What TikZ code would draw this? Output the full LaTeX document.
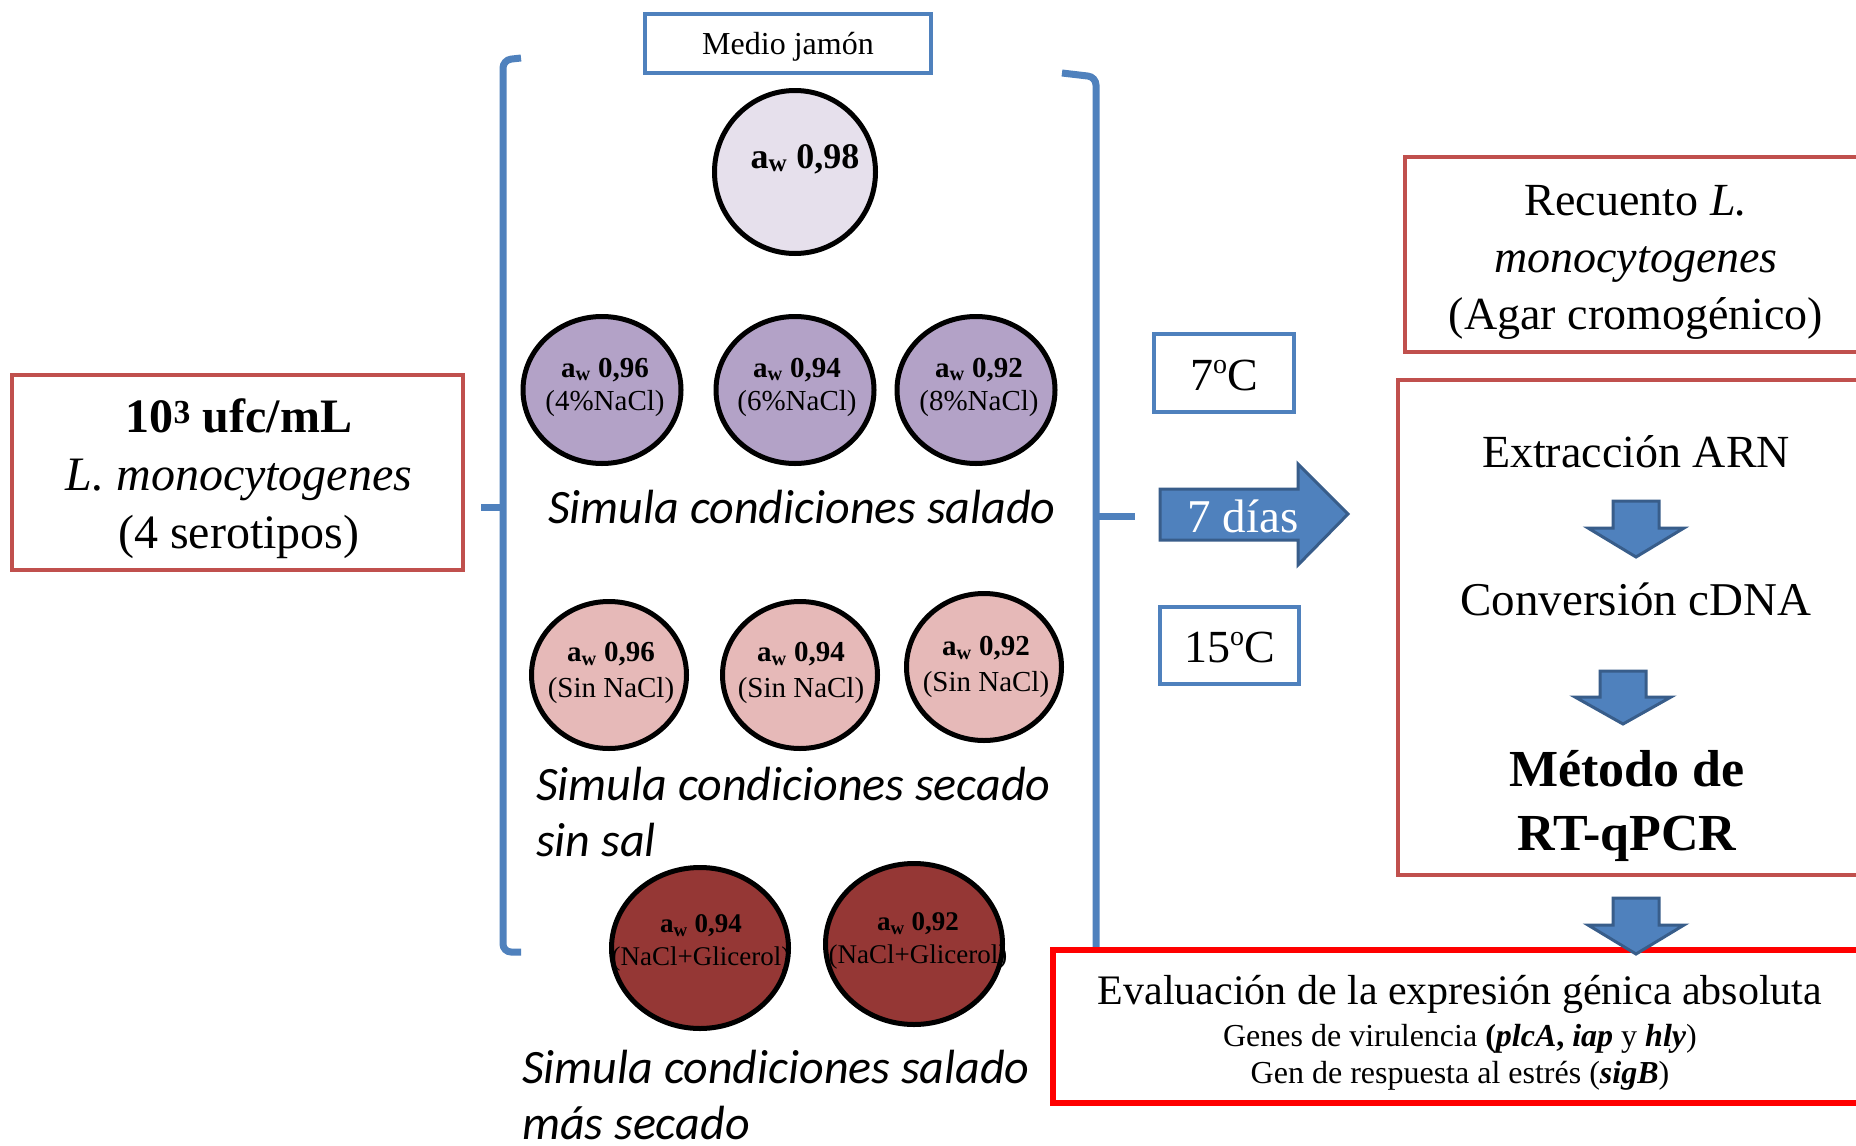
\documentclass[tikz,border=0pt]{standalone}
\usepackage{fontspec}
\setmainfont{Liberation Serif}
\newfontfamily\calibri{Carlito}
\usetikzlibrary{shapes.geometric}
\definecolor{boxred}{HTML}{C0504D}
\definecolor{brightred}{HTML}{FF0000}
\definecolor{myblue}{HTML}{4F81BD}
\definecolor{arrowborder}{HTML}{385D8A}
\definecolor{dishlav}{HTML}{E6E0EC}
\definecolor{dishpurp}{HTML}{B3A2C7}
\definecolor{dishpink}{HTML}{E6B9B8}
\definecolor{dishdark}{HTML}{953735}
\newcommand\fsz[2]{\fontsize{#1}{#2}\selectfont}
\newcommand\dego{\raisebox{0.36em}{\fontsize{28}{28}\selectfont o}}
\tikzset{
  redbox/.style={draw=boxred, line width=4pt, fill=white},
  bluebox/.style={draw=myblue, line width=4pt, fill=white},
  dish/.style={ellipse, draw=black, line width=5pt, inner sep=0pt},
  dishtext/.style={align=center, inner sep=0pt},
  caption/.style={anchor=west, font=\calibri\itshape\fsz{48}{56}, inner sep=0pt},
  blockarrow/.style={fill=myblue, draw=arrowborder, line width=3pt, line join=miter},
  bracket/.style={draw=myblue, line width=7pt, rounded corners=8pt}
}
\begin{document}
\begin{tikzpicture}[x=1pt,y=-1pt]
\clip (0,0) rectangle (1856,1146);
\fill[white] (0,0) rectangle (1856,1146);

% brackets
\draw[bracket] (521,58) -- (503,60) -- (503,952) -- (521,952);
\draw[bracket] (503,507) -- (481,507);
\draw[bracket] (1062,73) -- (1096,77) -- (1096,950);
\draw[bracket] (1096,516) -- (1135,516);

% left inoculum box
\node[redbox, minimum width=451pt, minimum height=195pt] (inoc) at (237.5,472.5) {};
\node[align=center, font=\fsz{48}{58}, inner sep=0pt] (inoctext) at (239,479)
  {\textbf{10\textsuperscript{3} ufc/mL}\\\textit{L. monocytogenes}\\(4 serotipos)};

% Medio jamon
\node[bluebox, minimum width=286pt, minimum height=59pt] (medio) at (788,43.5) {};
\node[font=\fsz{32}{38}, inner sep=0pt] (mediotext) at (788,47) {Medio jamón};

% dishes
\node[dish, fill=dishlav, minimum width=161pt, minimum height=163pt] (d98) at (795,172) {};
\node[dishtext, font=\bfseries\fsz{36}{40}] (t98) at (805,159) {a\textsubscript{w} 0,98};

\node[dish, fill=dishpurp, minimum width=158pt, minimum height=147pt] (s96) at (602,390) {};
\node[dish, fill=dishpurp, minimum width=158pt, minimum height=147pt] (s94) at (795,390) {};
\node[dish, fill=dishpurp, minimum width=158pt, minimum height=147pt] (s92) at (976,390) {};
\node[dishtext, font=\fsz{29}{33}] (ts96) at (605,387) {\textbf{a\textsubscript{w} 0,96}\\(4\%NaCl)};
\node[dishtext, font=\fsz{29}{33}] (ts94) at (797,387) {\textbf{a\textsubscript{w} 0,94}\\(6\%NaCl)};
\node[dishtext, font=\fsz{29}{33}] (ts92) at (979,387) {\textbf{a\textsubscript{w} 0,92}\\(8\%NaCl)};
\node[caption] (cap1) at (548,507) {Simula condiciones salado};

\node[dish, fill=dishpink, minimum width=155pt, minimum height=147pt] (p96) at (609,675) {};
\node[dish, fill=dishpink, minimum width=155pt, minimum height=147pt] (p94) at (800,675) {};
\node[dish, fill=dishpink, minimum width=155pt, minimum height=147pt] (p92) at (984,667) {};
\node[dishtext, font=\fsz{29}{36}] (tp96) at (611,673) {\textbf{a\textsubscript{w} 0,96}\\(Sin NaCl)};
\node[dishtext, font=\fsz{29}{36}] (tp94) at (801,673) {\textbf{a\textsubscript{w} 0,94}\\(Sin NaCl)};
\node[dishtext, font=\fsz{29}{36}] (tp92) at (986,667) {\textbf{a\textsubscript{w} 0,92}\\(Sin NaCl)};
\node[caption, align=left] (cap2) at (536,812) {Simula condiciones secado\\sin sal};

\node[dish, fill=dishdark, minimum width=177pt, minimum height=161pt] (g94) at (700,948) {};
\node[dish, fill=dishdark, minimum width=177pt, minimum height=161pt] (g92) at (914,944) {};
\node[dishtext, font=\fsz{27}{33}] (tg94) at (701,943) {\textbf{a\textsubscript{w} 0,94}\\(NaCl+Glicerol)};
\node[dishtext, font=\fsz{27}{33}] (tg92) at (918,941) {\textbf{a\textsubscript{w} 0,92}\\(NaCl+Glicerol)};
\node[caption, align=left] (cap3) at (522,1095) {Simula condiciones salado\\más secado};

% temperatures and time arrow
\node[bluebox, minimum width=140pt, minimum height=78pt] (t7) at (1224,373) {};
\node[font=\fsz{46}{55}, inner sep=0pt] (t7text) at (1224,375) {7\dego C};
\node[bluebox, minimum width=139pt, minimum height=77pt] (t15) at (1229.5,645.5) {};
\node[font=\fsz{46}{55}, inner sep=0pt] (t15text) at (1229.5,647) {15\dego C};
\draw[blockarrow] (1160,489) -- (1298,489) -- (1298,464) -- (1348,514) -- (1298,565) -- (1298,540) -- (1160,540) -- cycle;
\node[font=\fsz{47}{56}, text=white, inner sep=0pt] (dias) at (1243,516) {7 días};

% right boxes
\node[redbox, minimum width=465pt, minimum height=195pt] (recuento) at (1637.5,254.5) {};
\node[align=center, font=\fsz{46}{57}, inner sep=0pt] (recuentotext) at (1636,262)
  {Recuento \textit{L.}\\\textit{monocytogenes}\\(Agar cromogénico)};
\node[redbox, minimum width=472pt, minimum height=495pt] (proc) at (1634,627.5) {};
\node[font=\fsz{46}{55}, inner sep=0pt] (extr) at (1636,452) {Extracción ARN};
\draw[blockarrow] (1613,501) -- (1659,501) -- (1659,528) -- (1684,528) -- (1636,557) -- (1588,528) -- (1613,528) -- cycle;
\node[font=\fsz{47}{56}, inner sep=0pt] (conv) at (1636,599) {Conversión cDNA};
\draw[blockarrow] (1600,671) -- (1646,671) -- (1646,697) -- (1671,697) -- (1623,724) -- (1575,697) -- (1600,697) -- cycle;
\node[font=\bfseries\fsz{52}{64}, align=center, inner sep=0pt] (metodo) at (1627,806) {Método de\\RT-qPCR};

% evaluation box
\node[draw=brightred, line width=6pt, fill=white, minimum width=817pt, minimum height=153pt] (eval) at (1461.5,1026.5) {};
\draw[blockarrow] (1613,898) -- (1659,898) -- (1659,925) -- (1684,925) -- (1636,954) -- (1588,925) -- (1613,925) -- cycle;
\node[font=\fsz{42}{50}, inner sep=0pt] (evt1) at (1460,994) {Evaluación de la expresión génica absoluta};
\node[font=\fsz{32}{37}, inner sep=0pt] (evt2) at (1460,1039) {Genes de virulencia \textbf{(\textit{plcA}, \textit{iap}} y \textbf{\textit{hly}})};
\node[font=\fsz{32}{37}, inner sep=0pt] (evt3) at (1460,1076) {Gen de respuesta al estrés (\textbf{\textit{sigB}})};
\end{tikzpicture}
\end{document}
